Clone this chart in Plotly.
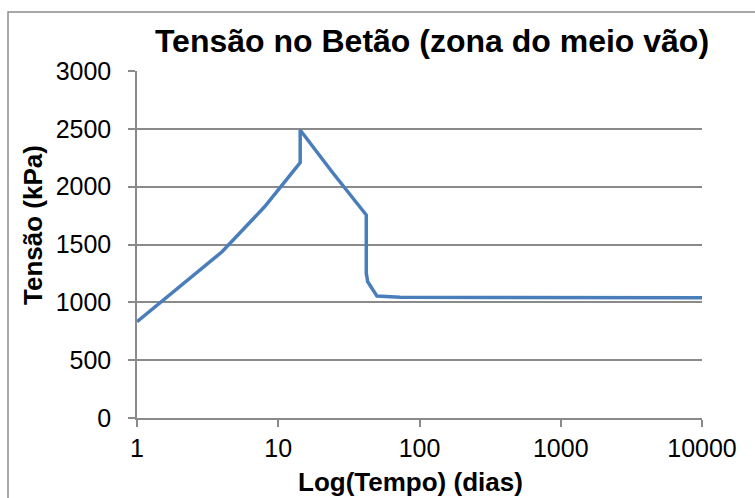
import plotly.graph_objects as go

# Concrete stress at mid-span over time (log scale)
tempo_dias = [1, 4, 8, 14.3, 14.3, 24, 42, 42, 43, 50, 73, 10000]
tensao_kpa = [833, 1437, 1826, 2207, 2490, 2129, 1755, 1251, 1178, 1054, 1043, 1040]

x_ticks = [1, 10, 100, 1000, 10000]
x_tick_labels = ["1", "10", "100", "1000", "10000"]
y_ticks = [0, 500, 1000, 1500, 2000, 2500, 3000]

FONT = "Liberation Sans, Arial, sans-serif"
GRID = "#8a8a8a"
W, H = 755, 498
L, R, T, B = 137, 53, 71, 80
PW, PH = W - L - R, H - T - B


def px_x(x):
    return (x - L) / PW


def px_y(y):
    return (H - B - y) / PH


fig = go.Figure(
    go.Scatter(
        x=tempo_dias,
        y=tensao_kpa,
        mode="lines",
        line=dict(color="#4a7ebb", width=3.5),
        hoverinfo="x+y",
    )
)

fig.update_layout(
    width=W,
    height=H,
    margin=dict(l=L, r=R, t=T, b=B),
    paper_bgcolor="white",
    plot_bgcolor="white",
    showlegend=False,
    font=dict(family=FONT, color="black"),
    title=dict(
        text="<b>Tensão no Betão (zona do meio vão)</b>",
        font=dict(family=FONT, size=32, color="black"),
        x=432 / W,
        xanchor="center",
        y=1 - 41 / H,
        yanchor="middle",
    ),
    annotations=[
        dict(
            text="<b>Log(Tempo) (dias)</b>",
            xref="paper", yref="paper",
            x=px_x(410), y=px_y(482),
            xanchor="center", yanchor="middle",
            showarrow=False,
            font=dict(family=FONT, size=26, color="black"),
        ),
        dict(
            text="<b>Tensão (kPa)</b>",
            xref="paper", yref="paper",
            x=px_x(33), y=px_y(225),
            xanchor="center", yanchor="middle",
            textangle=-90,
            showarrow=False,
            font=dict(family=FONT, size=26, color="black"),
        ),
    ],
    shapes=[
        dict(
            type="rect",
            xref="paper",
            yref="paper",
            x0=px_x(8),
            x1=1.2,
            y0=-0.5,
            y1=px_y(12),
            line=dict(color="#8c8c8c", width=1.5),
            fillcolor="rgba(0,0,0,0)",
            layer="below",
        )
    ],
)

fig.update_xaxes(
    type="log",
    range=[0, 4],
    tickvals=x_ticks,
    ticktext=x_tick_labels,
    showgrid=False,
    showline=True,
    linecolor=GRID,
    linewidth=1.5,
    ticks="outside",
    ticklen=7,
    tickcolor=GRID,
    tickwidth=1.5,
    tickfont=dict(family=FONT, size=25, color="black"),
    ticklabelstandoff=0,
    zeroline=False,
)

fig.update_yaxes(
    range=[0, 3000],
    tickvals=y_ticks,
    showgrid=True,
    gridcolor=GRID,
    gridwidth=1.5,
    showline=True,
    linecolor=GRID,
    linewidth=1.5,
    ticks="outside",
    ticklen=7,
    tickcolor=GRID,
    tickwidth=1.5,
    tickfont=dict(family=FONT, size=25, color="black"),
    ticklabelstandoff=12,
    zeroline=False,
)

fig.write_html("out.html")
